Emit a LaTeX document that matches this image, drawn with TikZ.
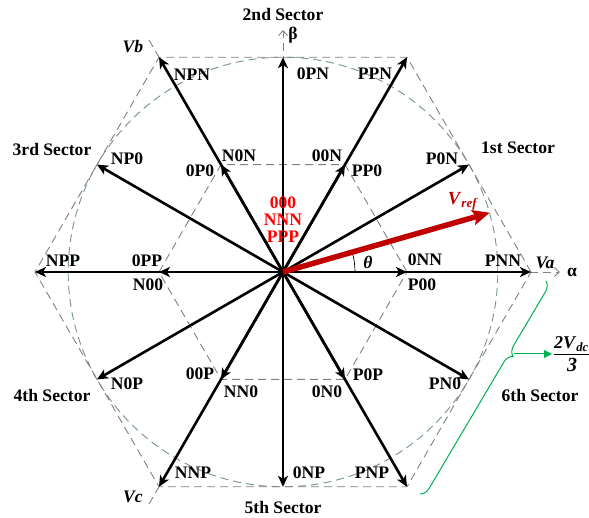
\documentclass[tikz,border=0pt]{standalone}
\usepackage{fontspec}
\setmainfont{Liberation Serif}
\usetikzlibrary{arrows.meta,decorations.pathreplacing,calc}
\definecolor{hexgray}{RGB}{128,128,128}
\definecolor{circgray}{RGB}{115,150,125}
\definecolor{vred}{RGB}{192,0,0}
\definecolor{tred}{RGB}{255,0,0}
\definecolor{brgreen}{RGB}{0,176,80}
\begin{document}
\begin{tikzpicture}[x=1pt,y=1pt,
  lbl/.style={font=\fontsize{17.6}{19}\selectfont\bfseries, inner sep=0pt},
  vec/.style={line width=2.6pt, -{Stealth[length=11pt,width=10pt,inset=3pt]}},
  dsh/.style={hexgray, line width=0.9pt, dash pattern=on 8pt off 5pt},
  circ/.style={circgray, line width=0.9pt, dash pattern=on 8pt off 5pt},
  axis/.style={dsh, -{Straight Barb[length=5pt,width=9pt,line width=0.9pt]}}]
\useasboundingbox (0,0) rectangle (589,517);
\coordinate (O) at (283,245);
\foreach \a/\n in {0/0,60/1,120/2,180/3,240/4,300/5}{
  \coordinate (L\n) at ($(O)+(\a:248)$);
  \coordinate (S\n) at ($(O)+(\a:124)$);
  \coordinate (M\n) at ($(O)+(\a+30:214.8)$);
}
% axes
\coordinate (ax) at (560,245);
\coordinate (bx) at (283,487);
\coordinate (vbx) at ($(O)+(120:272)$);
\coordinate (vcx) at ($(O)+(240:272)$);
\draw[circ] (O) circle[radius=214.8];
\draw[dsh] (L0)--(L1)--(L2)--(L3)--(L4)--(L5)--cycle;
\draw[dsh] (S0)--(S1)--(S2)--(S3)--(S4)--(S5)--cycle;
\draw[axis] (O) -- (ax);
\draw[axis] (O) -- (bx);
\draw[dsh] (O) -- (vbx);
\draw[dsh] (O) -- (vcx);
% vectors
\foreach \n in {0,...,5}{
  \draw[vec] (O) -- (L\n);
  \draw[vec] (O) -- (M\n);
  \draw[vec] (O) -- (S\n);
}
% theta arc
\coordinate (th0) at ($(O)+(0:72)$);
\draw[line width=0.7pt] (th0) arc[start angle=0,end angle=16,radius=72];
\node[lbl] (theta) at (368,255) {\textit{θ}};
% Vref
\coordinate (vref) at ($(O)+(16:215)$);
\draw[vred, line width=5.5pt, -{Stealth[length=17pt,width=15pt,inset=3pt]}] (O) -- (vref);
\node[lbl, text=vred, font=\fontsize{18.5}{20}\selectfont\bfseries] (vreflbl) at (463,316) {\textit{V}\textsubscript{\textit{ref}}};
\node[lbl, text=tred, align=center, font=\fontsize{17.6}{17}\selectfont\bfseries] (zero) at (283,297) {000\\NNN\\PPP};
% sector labels
\node[lbl] (s2) at (283,503) {2nd Sector};
\node[lbl] (s1) at (518,369) {1st Sector};
\node[lbl] (s3) at (52,368) {3rd Sector};
\node[lbl] (s4) at (52,122) {4th Sector};
\node[lbl] (s5) at (283,10) {5th Sector};
\node[lbl] (s6) at (540,122) {6th Sector};
% axis labels
\node[lbl] (vb) at (133,470) {\textit{Vb}};
\node[lbl] (vc) at (133,20) {\textit{Vc}};
\node[lbl] (va) at (545,254) {\textit{Va}};
\node[lbl] (al) at (572,245) {α};
\node[lbl] (be) at (293,482) {β};
% vector labels
\node[lbl] at (192,442) {NPN};
\node[lbl] at (313,443) {0PN};
\node[lbl] at (375,443) {PPN};
\node[lbl] at (127,358) {NP0};
\node[lbl] at (442,358) {P0N};
\node[lbl] at (239,361) {N0N};
\node[lbl] at (200,346) {0P0};
\node[lbl] at (327,361) {00N};
\node[lbl] at (367,346) {PP0};
\node[lbl] at (63,256) {NPP};
\node[lbl] at (147,256) {0PP};
\node[lbl] at (148,232) {N00};
\node[lbl] at (425,257) {0NN};
\node[lbl] at (503,256) {PNN};
\node[lbl] at (422,232) {P00};
\node[lbl] at (193,44) {NNP};
\node[lbl] at (309,44) {0NP};
\node[lbl] at (372,44) {PNP};
\node[lbl] at (127,133) {N0P};
\node[lbl] at (445,133) {PN0};
\node[lbl] at (200,143) {00P};
\node[lbl] at (241,125) {NN0};
\node[lbl] at (368,142) {P0P};
\node[lbl] at (327,125) {0N0};
% brace and fraction
\coordinate (br1) at (546,236);
\coordinate (br2) at (420,23);
\draw[brgreen, line width=1pt, decorate, decoration={brace, amplitude=10pt, aspect=0.33}] (br1) -- (br2);
\coordinate (bt) at (514,163);
\coordinate (fr) at (552,163);
\draw[brgreen, line width=1pt, -{Triangle[length=8pt,width=8pt]}] (bt) -- (fr);
\node[lbl, anchor=south west, font=\fontsize{18}{20}\selectfont\bfseries] (num) at (554,165) {\textit{2V}\textsubscript{\textit{dc}}};
\coordinate (bar1) at (554,163);
\coordinate (bar2) at (600,163);
\draw[line width=0.8pt] (bar1) -- (bar2);
\node[lbl, anchor=north, font=\fontsize{20}{22}\selectfont\bfseries] (den) at (572,159) {\textit{3}};
\end{tikzpicture}
\end{document}
